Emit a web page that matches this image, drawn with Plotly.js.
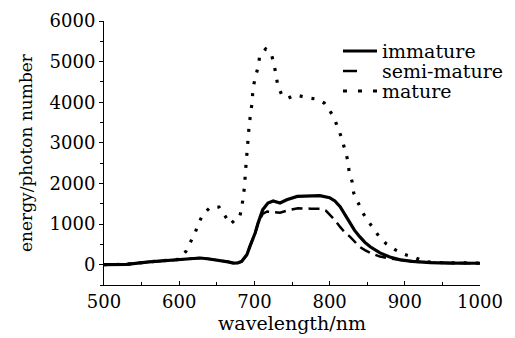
<!DOCTYPE html>
<html>
<head>
<meta charset="utf-8">
<script src="https://cdn.plot.ly/plotly-3.0.1.min.js"></script>
<style>html,body{margin:0;padding:0;background:#fff;}#chart{width:515px;height:338px;}</style>
</head>
<body>
<div id="chart"></div>
<script>
var immatureX = [500,530,560,600,628,640,654,665,672,678,683,690,694,701,705,711,718,725,734,743,757,775,787,800,807,814,820,827,833,840,847,854,860,867,880,894,910,934,960,1000];
var immatureY = [0,10,70,130,165,140,105,70,40,45,80,245,450,780,1030,1350,1520,1570,1520,1600,1680,1700,1700,1650,1570,1430,1250,1030,850,690,550,440,360,290,190,120,80,50,40,35];

var semiX = [500,530,560,600,628,640,654,665,672,678,683,690,694,701,705,711,717,725,734,745,758,775,787,795,800,807,814,820,827,834,840,847,854,867,880,894,910,934,960,1000];
var semiY = [0,10,70,130,165,140,105,70,40,45,80,245,450,780,1030,1250,1310,1300,1280,1340,1390,1380,1380,1330,1230,1100,930,800,690,560,440,360,290,200,150,120,80,50,40,35];

var matureX = [500,530,560,600,609,615,621,626,632,642,653,661,668,676,680,683,685,687,688,689,690,692,693,695,697,698,701,705,707,715,722,726,729,731,737,745,754,761,774,782,793,800,806,811,816,820,824,826,830,832,838,844,851,858,866,875,887,900,914,927,950,1000];
var matureY = [0,10,70,130,330,550,780,1030,1250,1420,1420,1200,1000,1130,1150,1375,1670,1940,2260,2530,2870,3150,3420,3730,4000,4320,4600,4870,5130,5310,5210,4960,4690,4420,4150,4100,4180,4150,4100,4080,3980,3800,3610,3370,3120,2850,2580,2290,2040,1770,1520,1280,1080,910,690,520,370,250,170,75,50,40];

var seriesNames = ['immature','semi-mature','mature'];
var xTicks = [500,600,700,800,900,1000];
var yTicks = [0,1000,2000,3000,4000,5000,6000];

var serif = 'DejaVu Serif';
var lineStyles = [
  {color: '#000', width: 3.2},
  {color: '#000', width: 2.5, dash: '11px,6px'},
  {color: '#000', width: 3.2, dash: '3px,9px'}
];
var legendDash = ['solid', '14px,40px', '4px,11px'];
var traces = [
  {x: immatureX, y: immatureY, name: seriesNames[0], mode: 'lines', line: lineStyles[0]},
  {x: semiX, y: semiY, name: seriesNames[1], mode: 'lines', line: lineStyles[1]},
  {x: matureX, y: matureY, name: seriesNames[2], mode: 'lines', line: lineStyles[2]}
];

var legRowsY = [0.8864, 0.8106, 0.7348];
var shapes = [], annotations = [];
seriesNames.forEach(function(n, i) {
  shapes.push({type: 'line', xref: 'paper', yref: 'paper', x0: 0.6356, x1: 0.7261, y0: legRowsY[i], y1: legRowsY[i],
    line: {color: '#000', width: lineStyles[i].width, dash: legendDash[i]}});
  annotations.push({xref: 'paper', yref: 'paper', x: 0.734, y: legRowsY[i], xanchor: 'left', yanchor: 'middle',
    text: n, showarrow: false, font: {family: serif, size: 19, color: '#000'}});
});

var layout = {
  width: 515, height: 338,
  margin: {l: 104, r: 35, t: 21, b: 53},
  paper_bgcolor: '#fff', plot_bgcolor: '#fff',
  font: {family: serif, color: '#000', size: 18},
  showlegend: false,
  shapes: shapes,
  annotations: annotations,
  xaxis: {
    range: [500, 1000], tickvals: xTicks, ticktext: xTicks.map(String),
    showgrid: false, zeroline: false, showline: true, linecolor: '#000', linewidth: 1,
    ticks: 'inside', ticklen: 4, tickcolor: '#000',
    minor: {dtick: 50, ticks: 'inside', ticklen: 3, tickcolor: '#000', showgrid: false},
    tickfont: {family: serif, size: 18},
    title: {text: 'wavelength/nm', font: {family: serif, size: 19}, standoff: 6}
  },
  yaxis: {
    range: [-500, 6000], tickvals: yTicks, ticktext: yTicks.map(String),
    showgrid: false, zeroline: false, showline: true, linecolor: '#000', linewidth: 1,
    ticks: 'outside', ticklen: 4, tickcolor: '#000',
    minor: {dtick: 500, ticks: 'outside', ticklen: 3, tickcolor: '#000', showgrid: false},
    tickfont: {family: serif, size: 18},
    title: {text: 'energy/photon number', font: {family: serif, size: 17}, standoff: 12}
  }
};
Plotly.newPlot('chart', traces, layout, {displayModeBar: false, staticPlot: true});
</script>
</body>
</html>
